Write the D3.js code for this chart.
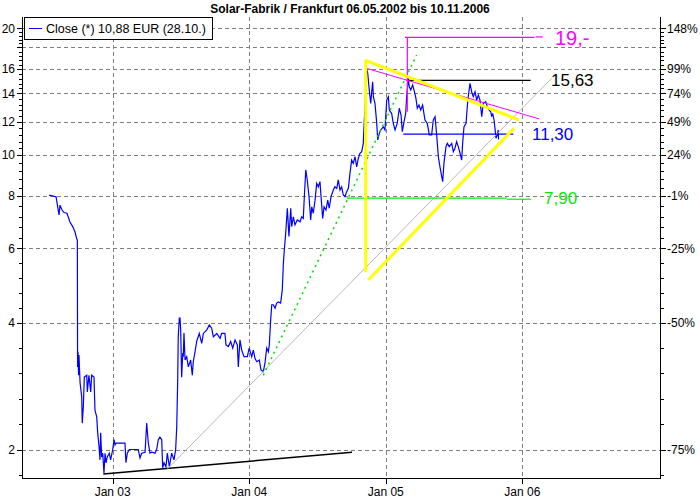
<!DOCTYPE html>
<html>
<head>
<meta charset="utf-8">
<script src="https://cdn.jsdelivr.net/npm/d3@7"></script>
<style>
  body { margin: 0; background: #fff; }
  text { font-family: "Liberation Sans", Arial, sans-serif; }
</style>
</head>
<body>
<div class="chart"></div>
<script>
// chart text
var title = "Solar-Fabrik / Frankfurt 06.05.2002 bis 10.11.2006";
var legendLabel = "Close (*) 10,88 EUR (28.10.)";

// x ticks (decimal years) and labels
var xTickYears = [2003, 2004, 2005, 2006];
var xTickLabels = ["Jan 03", "Jan 04", "Jan 05", "Jan 06"];

// y grid / ticks (log scale, EUR)
var gridValues = [2, 4, 6, 8, 10, 12, 14, 16, 18, 20];
var leftTickValues = [2, 4, 6, 8, 10, 12, 14, 16, 20];
var rightTickLabels = ["-75%", "-50%", "-25%", "-1%", "24%", "49%", "74%", "99%", "148%"];

// close prices: decimal year + value
var closeYears = [
  2002.534, 2002.585, 2002.599, 2002.607, 2002.614, 2002.629, 2002.643, 2002.665, 2002.687, 2002.709,
  2002.724, 2002.735, 2002.741, 2002.743, 2002.746, 2002.750, 2002.753, 2002.761, 2002.773, 2002.777,
  2002.785, 2002.792, 2002.810, 2002.814, 2002.826, 2002.839, 2002.846, 2002.863, 2002.870, 2002.883,
  2002.890, 2002.900, 2002.907, 2002.912, 2002.919, 2002.927, 2002.936, 2002.944, 2002.951, 2002.960,
  2002.975, 2002.985, 2003.000, 2003.010, 2003.017, 2003.024, 2003.090, 2003.097, 2003.107, 2003.122,
  2003.139, 2003.187, 2003.200, 2003.212, 2003.237, 2003.249, 2003.261, 2003.273, 2003.286, 2003.310,
  2003.322, 2003.334, 2003.346, 2003.359, 2003.366, 2003.376, 2003.390, 2003.400, 2003.415, 2003.432,
  2003.449, 2003.461, 2003.469, 2003.476, 2003.480, 2003.488, 2003.493, 2003.498, 2003.505, 2003.513,
  2003.517, 2003.522, 2003.530, 2003.542, 2003.554, 2003.571, 2003.583, 2003.590, 2003.603, 2003.615,
  2003.634, 2003.652, 2003.664, 2003.688, 2003.708, 2003.725, 2003.737, 2003.762, 2003.786, 2003.798,
  2003.822, 2003.830, 2003.847, 2003.864, 2003.879, 2003.896, 2003.913, 2003.920, 2003.932, 2003.945,
  2003.962, 2003.986, 2004.000, 2004.018, 2004.030, 2004.042, 2004.055, 2004.074, 2004.086, 2004.103,
  2004.115, 2004.128, 2004.140, 2004.147, 2004.157, 2004.165, 2004.176, 2004.189, 2004.201, 2004.213,
  2004.230, 2004.242, 2004.250, 2004.257, 2004.267, 2004.279, 2004.291, 2004.304, 2004.311, 2004.323,
  2004.335, 2004.352, 2004.372, 2004.384, 2004.396, 2004.403, 2004.414, 2004.425, 2004.438, 2004.450,
  2004.458, 2004.469, 2004.482, 2004.494, 2004.506, 2004.518, 2004.526, 2004.538, 2004.548, 2004.562,
  2004.575, 2004.586, 2004.599, 2004.616, 2004.628, 2004.641, 2004.652, 2004.665, 2004.677, 2004.689,
  2004.701, 2004.714, 2004.726, 2004.738, 2004.750, 2004.762, 2004.775, 2004.787, 2004.799, 2004.811,
  2004.824, 2004.835, 2004.843, 2004.848, 2004.860, 2004.868, 2004.879, 2004.890, 2004.897, 2004.904,
  2004.909, 2004.921, 2004.934, 2004.941, 2004.953, 2004.963, 2004.982, 2004.994, 2005.007, 2005.019,
  2005.026, 2005.043, 2005.055, 2005.068, 2005.084, 2005.099, 2005.112, 2005.121, 2005.134, 2005.146,
  2005.153, 2005.165, 2005.172, 2005.183, 2005.197, 2005.207, 2005.221, 2005.231, 2005.243, 2005.256,
  2005.270, 2005.287, 2005.304, 2005.319, 2005.336, 2005.348, 2005.361, 2005.373, 2005.385, 2005.397,
  2005.410, 2005.417, 2005.426, 2005.441, 2005.451, 2005.465, 2005.483, 2005.495, 2005.507, 2005.519,
  2005.531, 2005.544, 2005.556, 2005.563, 2005.573, 2005.588, 2005.597, 2005.604, 2005.617, 2005.629,
  2005.641, 2005.654, 2005.666, 2005.678, 2005.690, 2005.703, 2005.714, 2005.732, 2005.744, 2005.756,
  2005.769, 2005.776, 2005.783, 2005.793, 2005.800, 2005.807, 2005.817, 2005.824, 2005.826
];
var closeValues = [
  8.03, 7.96, 7.47, 7.20, 7.60, 7.40, 7.30, 7.27, 6.93, 6.74,
  6.56, 6.35, 6.28, 3.14, 3.41, 3.00, 3.35, 2.88, 2.67, 2.31,
  2.53, 2.97, 3.00, 2.74, 3.00, 2.74, 3.00, 2.97, 2.48, 2.39,
  2.19, 2.03, 1.89, 2.19, 1.92, 1.96, 1.76, 1.96, 1.86, 1.92,
  1.96, 1.89, 2.00, 2.11, 2.05, 2.07, 2.07, 1.86, 1.96, 2.00,
  2.00, 2.00, 1.91, 1.96, 1.97, 2.31, 2.07, 1.96, 1.97, 1.96,
  2.00, 2.11, 2.14, 2.11, 1.81, 1.86, 1.82, 1.96, 1.82, 1.96,
  1.89, 2.00, 2.26, 2.92, 3.70, 4.10, 4.10, 3.84, 2.97, 3.39,
  3.32, 3.78, 3.26, 3.32, 3.14, 3.26, 3.00, 3.23, 3.41, 3.61,
  3.77, 3.57, 3.77, 3.84, 3.95, 3.88, 3.70, 3.77, 3.67, 3.77,
  3.77, 3.54, 3.51, 3.61, 3.48, 3.64, 3.54, 3.14, 3.64, 3.44,
  3.32, 3.32, 3.48, 3.32, 3.44, 3.29, 3.23, 3.26, 3.09, 3.06,
  3.20, 3.48, 3.41, 3.54, 4.06, 4.41, 4.41, 4.33, 4.45, 4.48,
  4.45, 4.78, 5.53, 5.95, 6.52, 7.47, 6.40, 7.47, 6.76, 7.13,
  6.82, 7.01, 6.94, 7.13, 7.07, 7.89, 9.21, 8.72, 7.96, 7.01,
  7.53, 7.27, 7.81, 8.56, 8.40, 8.64, 7.96, 7.07, 7.53, 7.40,
  7.81, 7.47, 7.96, 8.25, 8.40, 8.33, 8.72, 8.25, 8.40, 8.03,
  7.96, 8.18, 8.33, 9.04, 9.72, 9.55, 9.90, 9.37, 9.82, 10.09,
  10.18, 10.65, 12.10, 13.01, 16.04, 15.61, 14.25, 13.25, 14.12, 14.91,
  13.74, 13.25, 11.88, 10.85, 11.25, 11.46, 11.66, 11.46, 13.49, 13.74,
  12.78, 12.55, 11.88, 11.46, 11.88, 12.90, 12.43, 11.35, 11.99, 12.55,
  13.74, 15.19, 14.51, 14.25, 14.65, 14.25, 13.62, 12.90, 13.13, 12.78,
  13.13, 12.10, 11.88, 11.15, 11.15, 12.10, 12.32, 11.15, 9.90, 9.37,
  8.88, 8.64, 9.55, 10.46, 10.65, 10.46, 10.65, 10.18, 10.37, 10.75,
  10.46, 10.09, 9.72, 10.65, 11.66, 11.88, 13.01, 13.74, 14.78, 14.12,
  13.74, 14.12, 13.49, 13.87, 13.49, 12.32, 13.25, 13.37, 13.01, 12.78,
  12.66, 12.32, 12.55, 12.10, 11.56, 10.95, 11.15, 11.46, 10.88
];

// drawn analysis lines: [year1, value1, year2, value2]
var supportLine = [2002.931, 1.75, 2004.753, 1.97];
var grayTrend = [2003.395, 1.79, 2006.215, 15.19];
var greenTrend = [2004.103, 3.00, 2005.226, 17.26];
var magentaTrend = [2004.860, 16.04, 2006.124, 12.17];
var yellowUpper = [2004.848, 16.79, 2005.976, 12.10];
var yellowVertical = [2004.853, 16.79, 2004.853, 5.27];
var yellowLower = [2004.872, 5.05, 2005.939, 11.56];

// horizontal levels: start year, end year, value
var levelStarts = [2005.141, 2005.153, 2005.128, 2004.714];
var levelEnds = [2006.088, 2006.061, 2005.934, 2005.886];
var levelValues = [19.0, 15.03, 11.2, 7.90];
var levelColors = ["#ff00ff", "#000000", "#0000ff", "#00ee00"];
var levelLabels = ["19,-", "15,63", "11,30", "7,90"];
var magentaDrop = [2005.158, 19.0, 2005.158, 12.66];
// short marker stubs next to the labels
var magentaStub = [2006.098, 19.05, 2006.149, 19.05];
var greenStub = [2005.886, 7.85, 2006.062, 7.85];

var svgWidth = 700, svgHeight = 500;
var margin = { top: 17, right: 40, bottom: 22, left: 22 };
var chartRight = svgWidth - margin.right;
var chartBottom = svgHeight - margin.bottom;

var svg = d3.select(".chart").append("svg")
    .attr("width", svgWidth)
    .attr("height", svgHeight);

// scales
var xScale = d3.scaleLinear().domain([2003, 2006]).range([112.7, 522.3]);
var yScale = d3.scaleLog().domain([2, 20]).range([449.5, 28]);

// title
svg.append("text")
    .attr("x", 350).attr("y", 13)
    .attr("text-anchor", "middle")
    .attr("font-size", "12px")
    .attr("font-weight", "bold")
    .text(title);

// grid
var grid = svg.append("g").attr("stroke", "#808080").attr("stroke-dasharray", "4,3");
grid.selectAll("line.h").data(gridValues).enter().append("line")
    .attr("x1", margin.left).attr("x2", chartRight)
    .attr("y1", d => Math.round(yScale(d)) + 0.5).attr("y2", d => Math.round(yScale(d)) + 0.5);
grid.selectAll("line.v").data(xTickYears).enter().append("line")
    .attr("y1", margin.top).attr("y2", chartBottom)
    .attr("x1", d => Math.round(xScale(d)) + 0.5).attr("x2", d => Math.round(xScale(d)) + 0.5);

// minor ticks, 4 between each major, evenly spaced
var minorY = [];
for (var i = 0; i < gridValues.length - 1; i++) {
    var a = yScale(gridValues[i]), b = yScale(gridValues[i + 1]);
    for (var k = 1; k < 5; k++) minorY.push(a + (b - a) * k / 5);
}
minorY.push(yScale(gridValues[0]) + (yScale(gridValues[0]) - yScale(gridValues[1])) / 5);

// axes lines
var axes = svg.append("g").attr("stroke", "#000").attr("shape-rendering", "crispEdges");
axes.append("line").attr("x1", margin.left + 0.5).attr("x2", margin.left + 0.5).attr("y1", margin.top).attr("y2", chartBottom + 0.5);
axes.append("line").attr("x1", chartRight + 0.5).attr("x2", chartRight + 0.5).attr("y1", margin.top).attr("y2", chartBottom + 0.5);
axes.append("line").attr("x1", margin.left).attr("x2", chartRight + 1).attr("y1", chartBottom + 0.5).attr("y2", chartBottom + 0.5);

minorY.forEach(function(py) {
    var yy = Math.round(py) + 0.5;
    axes.append("line").attr("x1", margin.left - 3).attr("x2", margin.left).attr("y1", yy).attr("y2", yy);
    axes.append("line").attr("x1", chartRight + 1).attr("x2", chartRight + 4).attr("y1", yy).attr("y2", yy);
});
gridValues.forEach(function(v) {
    var yy = Math.round(yScale(v)) + 0.5;
    axes.append("line").attr("x1", margin.left - 5).attr("x2", margin.left).attr("y1", yy).attr("y2", yy);
    axes.append("line").attr("x1", chartRight + 1).attr("x2", chartRight + 6).attr("y1", yy).attr("y2", yy);
});
xTickYears.forEach(function(v) {
    var xx = Math.round(xScale(v)) + 0.5;
    axes.append("line").attr("x1", xx).attr("x2", xx).attr("y1", chartBottom).attr("y2", chartBottom + 6);
});

// tick labels
svg.selectAll("text.left").data(leftTickValues).enter().append("text")
    .attr("x", 15).attr("y", d => yScale(d) + 4.5)
    .attr("text-anchor", "end").attr("font-size", "12px")
    .text(d => d);
svg.selectAll("text.right").data(rightTickLabels).enter().append("text")
    .attr("x", 667).attr("y", (d, i) => yScale(leftTickValues[i]) + 4.5)
    .attr("font-size", "12px")
    .text(d => d);
svg.selectAll("text.bottom").data(xTickLabels).enter().append("text")
    .attr("x", (d, i) => xScale(xTickYears[i])).attr("y", 496)
    .attr("text-anchor", "middle").attr("font-size", "12px")
    .text(d => d);

// clip
svg.append("clipPath").attr("id", "plot").append("rect")
    .attr("x", margin.left + 1).attr("y", margin.top)
    .attr("width", chartRight - margin.left - 1).attr("height", chartBottom - margin.top);
var plot = svg.append("g").attr("clip-path", "url(#plot)");

var seg = function(s) {
    return [[xScale(s[0]), yScale(s[1])], [xScale(s[2]), yScale(s[3])]];
};
var lineGen = d3.line();

// close line
var closeLine = d3.line()
    .x((d, i) => xScale(closeYears[i]))
    .y(d => yScale(d));
plot.append("path")
    .attr("d", closeLine(closeValues))
    .attr("fill", "none").attr("stroke", "#0000ff").attr("stroke-width", 1.2);

// analysis lines
plot.append("path").attr("d", lineGen(seg(supportLine)))
    .attr("stroke", "#000").attr("stroke-width", 1.5);
plot.append("path").attr("d", lineGen(seg(grayTrend)))
    .attr("stroke", "#b8b8b8").attr("stroke-width", 1);
plot.append("path").attr("d", lineGen(seg(greenTrend)))
    .attr("stroke", "#00dd00").attr("stroke-width", 1.5).attr("stroke-dasharray", "2,4");

levelValues.forEach(function(v, i) {
    plot.append("path").attr("d", lineGen(seg([levelStarts[i], v, levelEnds[i], v])))
        .attr("stroke", levelColors[i]).attr("stroke-width", 1.2);
});
plot.append("path").attr("d", lineGen(seg(magentaDrop)))
    .attr("stroke", "#ff00ff").attr("stroke-width", 1.2);
plot.append("path").attr("d", lineGen(seg(magentaStub)))
    .attr("stroke", "#ff00ff").attr("stroke-width", 1.2);
plot.append("path").attr("d", lineGen(seg(greenStub)))
    .attr("stroke", "#00ee00").attr("stroke-width", 1.2);
plot.append("path").attr("d", lineGen(seg(magentaTrend)))
    .attr("stroke", "#ff00ff").attr("stroke-width", 1);

[yellowUpper, yellowVertical, yellowLower].forEach(function(s) {
    plot.append("path").attr("d", lineGen(seg(s)))
        .attr("stroke", "#ffff00").attr("stroke-width", 3);
});

// level labels
var labelX = [555, 551, 532, 544];
var labelSize = [20, 17, 17, 17];
levelLabels.forEach(function(t, i) {
    svg.append("text")
        .attr("x", labelX[i]).attr("y", yScale(levelValues[i]) + labelSize[i] * 0.36)
        .attr("font-size", labelSize[i] + "px")
        .attr("fill", levelColors[i])
        .text(t);
});

// legend
var legend = svg.append("g");
legend.append("rect").attr("x", 24.5).attr("y", 17.5).attr("width", 188).attr("height", 22)
    .attr("fill", "#fff").attr("stroke", "#000");
legend.append("line").attr("x1", 29).attr("x2", 42).attr("y1", 28.5).attr("y2", 28.5)
    .attr("stroke", "#0000ff");
legend.append("text").attr("x", 46).attr("y", 33).attr("font-size", "12.5px").text(legendLabel);
</script>
</body>
</html>
